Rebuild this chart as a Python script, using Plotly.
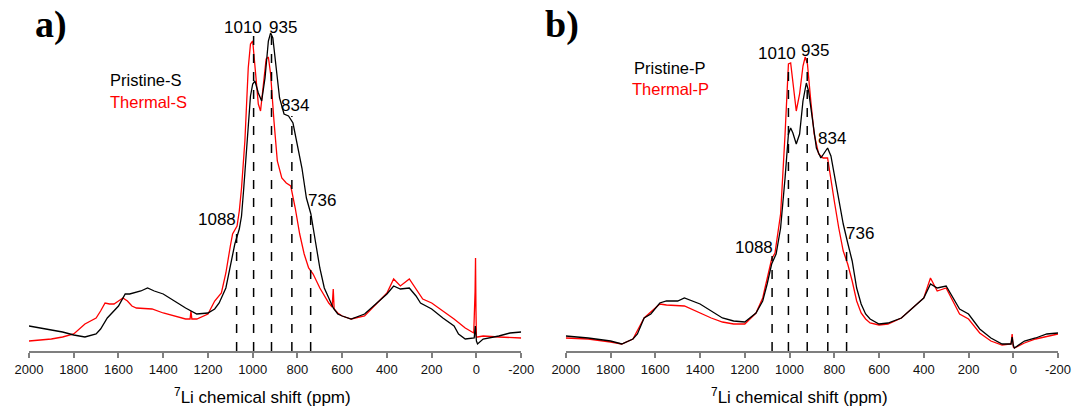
import plotly.graph_objects as go

# ---------------- data ----------------
# Panel a
a_black_x = [2000, 1950, 1900, 1850, 1800, 1750, 1700, 1680, 1650, 1620, 1600, 1570, 1550, 1500, 1470, 1440,
             1400, 1350, 1300, 1250, 1200, 1170, 1150, 1120, 1100, 1080, 1060, 1050, 1040, 1030, 1020, 1010,
             1000, 990, 975, 960, 945, 930, 920, 910, 895, 880, 860, 840, 820, 800, 780, 760, 740, 720, 700,
             680, 660, 640, 620, 600, 560, 500, 450, 400, 370, 340, 300, 270, 250, 200, 150, 100, 80, 50, 10,
             5, 0, -5, -30, -100, -150, -200]
a_black_y = [25, 23, 21, 19, 16, 14, 17, 22, 33, 40, 45, 57, 57, 60, 63, 60,
             57, 50, 43, 37, 38, 42, 48, 63, 87, 107, 122, 135, 163, 195, 227, 255,
             267, 270, 258, 250, 273, 310, 318, 313, 283, 253, 237, 235, 228, 207, 183, 153, 137, 110, 83,
             63, 52, 43, 37, 35, 32, 37, 47, 57, 65, 62, 63, 55, 48, 42, 33, 25, 17, 12, 13,
             25, 10, 7, 12, 15, 18, 19]
a_red_x = [2000, 1950, 1900, 1850, 1800, 1750, 1700, 1680, 1660, 1640, 1620, 1600, 1580, 1560, 1540, 1520,
           1450, 1400, 1350, 1300, 1280, 1276, 1272, 1250, 1200, 1170, 1140, 1120, 1100, 1090, 1070, 1060,
           1050, 1035, 1020, 1010, 1000, 990, 975, 965, 955, 940, 930, 920, 905, 890, 870, 850, 830, 810,
           790, 770, 750, 730, 700, 680, 660, 645, 640, 636, 620, 600, 560, 500, 450, 400, 370, 340, 300,
           270, 240, 200, 150, 100, 50, 12, 6, 4, 2, 0, -5, -30, -100, -200]
a_red_y = [10, 11, 12, 14, 17, 27, 33, 40, 48, 47, 47, 50, 53, 50, 45, 43,
           42, 38, 35, 32, 32, 40, 32, 32, 37, 50, 58, 78, 105, 117, 125, 140,
           163, 210, 283, 307, 310, 283, 247, 240, 263, 292, 294, 277, 230, 190, 173, 168, 165, 143,
           117, 97, 83, 77, 63, 55, 48, 44, 62, 42, 38, 35, 32, 35, 47, 58, 72, 65, 72,
           62, 52, 48, 40, 32, 23, 18, 60, 93, 40, 14, 14, 15, 14, 13]

# Panel b
b_black_x = [2000, 1900, 1800, 1750, 1700, 1680, 1650, 1620, 1580, 1550, 1500, 1470, 1400, 1350, 1300, 1250,
             1200, 1150, 1120, 1100, 1080, 1060, 1040, 1020, 1005, 995, 985, 970, 955, 940, 925, 915, 900,
             880, 860, 845, 830, 815, 800, 780, 760, 740, 720, 700, 680, 660, 640, 600, 560, 500, 450, 400,
             370, 340, 300, 270, 240, 200, 170, 150, 100, 50, 10, 5, 0, -5, -50, -100, -150, -200]
b_black_y = [15, 13, 10, 7, 12, 17, 33, 37, 48, 50, 50, 53, 47, 40, 33, 30,
             29, 38, 50, 67, 87, 97, 123, 173, 217, 223, 218, 207, 217, 250, 268, 260, 233,
             203, 193, 198, 203, 195, 177, 150, 127, 108, 90, 63, 47, 37, 32, 27, 28, 33, 43, 53,
             67, 63, 65, 53, 42, 37, 28, 22, 13, 7, 7, 14, 6, 3, 10, 13, 17, 18]
b_red_x = [2000, 1900, 1800, 1750, 1700, 1650, 1580, 1550, 1470, 1400, 1350, 1300, 1250, 1200, 1150, 1120,
           1100, 1080, 1065, 1040, 1020, 1005, 995, 985, 970, 955, 940, 930, 920, 905, 890, 870, 850, 830,
           815, 800, 780, 760, 740, 720, 700, 680, 660, 640, 600, 560, 500, 450, 400, 370, 340, 300, 270,
           240, 200, 170, 150, 100, 50, 10, 5, 0, -5, -50, -100, -200]
b_red_y = [13, 12, 9, 7, 12, 33, 47, 46, 45, 38, 33, 29, 27, 27, 38, 53,
           73, 92, 98, 137, 217, 287, 288, 270, 240, 257, 285, 294, 287, 250, 217, 197, 193, 193,
           170, 150, 123, 100, 87, 70, 50, 38, 32, 28, 26, 27, 33, 43, 53, 73, 60, 63, 50,
           37, 32, 23, 18, 10, 6, 7, 17, 4, 3, 8, 12, 17]

peak_labels = ["1088", "1010", "935", "834", "736"]
# dashed marker lines: ppm position and height reached
a_mark_x = [1072, 996, 916, 825, 741]
a_mark_top = [122, 315, 318, 235, 142]
b_mark_x = [1078, 1005, 921, 829, 745]
b_mark_top = [95, 287, 293, 193, 105]
# label anchor positions (ppm, intensity)
a_lab_x = [1159, 1042, 863, 812, 689]
a_lab_y = [132, 324, 324, 246, 151]
b_lab_x = [1159, 1058, 888, 810, 686]
b_lab_y = [104, 298, 301, 213, 118]

tick_vals = [2000, 1800, 1600, 1400, 1200, 1000, 800, 600, 400, 200, 0, -200]
tick_text = [str(v) for v in tick_vals]

FONT = "Liberation Sans"
BLACK = "#000000"
RED = "#ff0000"

fig = go.Figure()
fig.add_trace(go.Scatter(x=a_red_x, y=a_red_y, mode="lines", line=dict(color=RED, width=1.3),
                         xaxis="x", yaxis="y", showlegend=False))
fig.add_trace(go.Scatter(x=a_black_x, y=a_black_y, mode="lines", line=dict(color=BLACK, width=1.3),
                         xaxis="x", yaxis="y", showlegend=False))
fig.add_trace(go.Scatter(x=b_red_x, y=b_red_y, mode="lines", line=dict(color=RED, width=1.3),
                         xaxis="x2", yaxis="y2", showlegend=False))
fig.add_trace(go.Scatter(x=b_black_x, y=b_black_y, mode="lines", line=dict(color=BLACK, width=1.3),
                         xaxis="x2", yaxis="y2", showlegend=False))

shapes = []
for xs, tops, xr, yr in [(a_mark_x, a_mark_top, "x", "y"), (b_mark_x, b_mark_top, "x2", "y2")]:
    for xv, tv in zip(xs, tops):
        shapes.append(dict(type="line", xref=xr, yref=yr, x0=xv, x1=xv, y0=0, y1=tv,
                           line=dict(color=BLACK, width=1.5, dash="dash")))

annotations = []
for xs, ys, xr, yr in [(a_lab_x, a_lab_y, "x", "y"), (b_lab_x, b_lab_y, "x2", "y2")]:
    for t, xv, yv in zip(peak_labels, xs, ys):
        annotations.append(dict(text=t, x=xv, y=yv, xref=xr, yref=yr, showarrow=False,
                                xanchor="center", yanchor="middle",
                                font=dict(family=FONT, size=17, color=BLACK)))

annotations += [
    dict(text="Pristine-S", x=1645, y=271, xref="x", yref="y", showarrow=False, xanchor="left",
         yanchor="middle", font=dict(family=FONT, size=16.5, color=BLACK)),
    dict(text="Thermal-S", x=1645, y=249, xref="x", yref="y", showarrow=False, xanchor="left",
         yanchor="middle", font=dict(family=FONT, size=16.5, color=RED)),
    dict(text="Pristine-P", x=1705, y=283, xref="x2", yref="y2", showarrow=False, xanchor="left",
         yanchor="middle", font=dict(family=FONT, size=16.5, color=BLACK)),
    dict(text="Thermal-P", x=1714, y=262, xref="x2", yref="y2", showarrow=False, xanchor="left",
         yanchor="middle", font=dict(family=FONT, size=16.5, color=RED)),
    dict(text="<b>a)</b>", x=0.0215, y=0.988, xref="paper", yref="paper", showarrow=False, xanchor="center",
         yanchor="middle", font=dict(family="Liberation Serif", size=38, color=BLACK)),
    dict(text="<b>b)</b>", x=0.518, y=0.988, xref="paper", yref="paper", showarrow=False, xanchor="center",
         yanchor="middle", font=dict(family="Liberation Serif", size=38, color=BLACK)),
    dict(text="<sup>7</sup>Li chemical shift (ppm)", x=955, y=-0.136, xref="x", yref="paper",
         showarrow=False, xanchor="center", yanchor="middle", font=dict(family=FONT, size=17, color=BLACK)),
    dict(text="<sup>7</sup>Li chemical shift (ppm)", x=955, y=-0.136, xref="x2", yref="paper",
         showarrow=False, xanchor="center", yanchor="middle", font=dict(family=FONT, size=17, color=BLACK)),
]

xaxis_common = dict(range=[2000, -200], tickvals=tick_vals, ticktext=tick_text, showgrid=False,
                    zeroline=False, showline=True, linecolor="#7f7f7f", linewidth=2,
                    ticks="outside", ticklen=5, tickwidth=1.5, tickcolor="#7f7f7f",
                    tickfont=dict(family=FONT, size=13, color="#111111"), fixedrange=True)
yaxis_common = dict(range=[0, 330], visible=False, showgrid=False, zeroline=False, fixedrange=True)

fig.update_layout(
    width=1083, height=409,
    margin=dict(l=29, r=15, t=21, b=58),
    paper_bgcolor="white", plot_bgcolor="white",
    xaxis=dict(domain=[0, 0.4783], anchor="y", **xaxis_common),
    yaxis=dict(domain=[0, 1], anchor="x", **yaxis_common),
    xaxis2=dict(domain=[0.5217, 1], anchor="y2", **xaxis_common),
    yaxis2=dict(domain=[0, 1], anchor="x2", **yaxis_common),
    shapes=shapes,
    annotations=annotations,
    showlegend=False,
)

fig.write_html("out.html")
